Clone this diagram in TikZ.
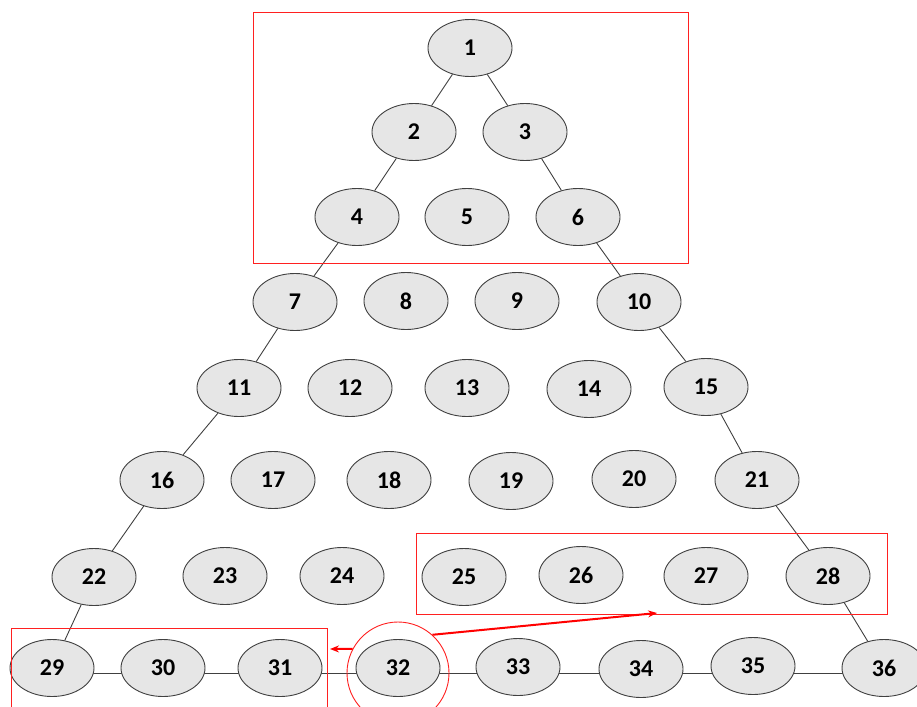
\documentclass[tikz,border=0pt]{standalone}
\usepackage{fontspec}
\setmainfont{Carlito}
\usetikzlibrary{shapes.geometric,arrows.meta,backgrounds}
\definecolor{nodefill}{HTML}{E6E6E6}
\definecolor{edgegray}{HTML}{404040}
\definecolor{hired}{HTML}{FF2020}
\tikzset{
  nd/.style={ellipse,draw=edgegray,line width=0.9pt,fill=nodefill,minimum width=84pt,minimum height=57pt,inner sep=0pt,font=\fontsize{24}{28}\selectfont\bfseries},
  ln/.style={draw=edgegray,line width=0.9pt},
  redbox/.style={draw=hired,line width=0.9pt},
  redarrow/.style={draw=red,line width=2pt,-{Stealth[length=9pt,width=7pt]}}
}
\begin{document}
\begin{tikzpicture}[x=1pt,y=-1pt]
\useasboundingbox (0,0) rectangle (917,706);
\clip (0,0) rectangle (917,706);
% nodes
\foreach \n/\x/\y in {1/470/48,2/414/132,3/525/132,4/357/217,5/467/217,6/578/217,
 7/295/302,8/406/301,9/517/301,10/639/302,
 11/239/388,12/350/388,13/467/388,14/589/389,15/706/387,
 16/162/480,17/273/480,18/389/480,19/511/481,20/634/479,21/757/480,
 22/94/577,23/225/576,24/342/576,25/464/577,26/581/575,27/706/576,28/828/576,
 29/52/668,30/163/668,31/280/668,32/398/668,33/518/667,34/641/669,35/753/666,36/884/668}
 {\node[nd] (n\n) at (\x,\y) {\n};}
% edges
\foreach \a/\b in {1/2,1/3,2/4,3/6,4/7,6/10,7/11,10/15,11/16,15/21,16/22,21/28,22/29,28/36}
 {\draw[ln] (n\a) -- (n\b);}
\begin{scope}[on background layer]
\draw[ln] ([yshift=-5pt]n29.center) -- ([yshift=-5pt]n29.center -| n36.center);
\end{scope}
% red boxes
\draw[redbox] (253,12) rectangle (688,263);
\draw[redbox] (416,533) rectangle (887,614);
\draw[redbox] (11,628) rectangle (327,720);
\node[circle,draw=hired,line width=0.9pt,minimum size=102pt,inner sep=0pt] (circ) at (398,673) {};
\coordinate (lt) at (330,649);
\coordinate (rt) at (657,613);
\draw[redarrow] (circ.152) -- (lt);
\draw[redarrow] (circ.48) -- (rt);
\end{tikzpicture}
\end{document}
